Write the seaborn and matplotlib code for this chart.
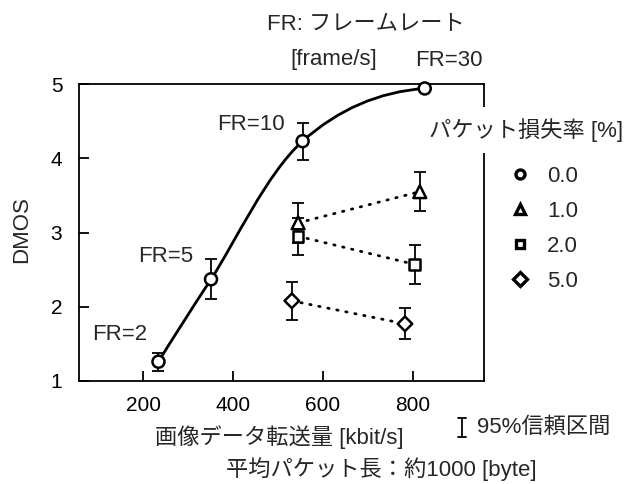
import numpy as np
import pandas as pd
import matplotlib
matplotlib.use("Agg")
import matplotlib.pyplot as plt
import seaborn as sns
from matplotlib.path import Path
from matplotlib.patches import PathPatch
from matplotlib.lines import Line2D

# ---------------- data ----------------
fr_labels = ["FR=2", "FR=5", "FR=10", "FR=30"]
fr_offsets = [(-39, 27), (-45, 23), (-52, 17), (24, 28)]   # label offsets (pixels)

loss_labels = ["0.0", "1.0", "2.0", "5.0"]

rate0_x = [234, 351, 555, 827]
rate0_y = [1.26, 2.37, 4.23, 4.94]
rate0_ci = [0.12, 0.27, 0.25, 0.0]

rate1_x = [545, 816]
rate1_y = [3.13, 3.55]
rate1_ci = [0.27, 0.26]

rate2_x = [545, 805]
rate2_y = [2.95, 2.57]
rate2_ci = [0.25, 0.26]

rate5_x = [531, 783]
rate5_y = [2.08, 1.77]
rate5_ci = [0.26, 0.21]

x_ticks = [200, 400, 600, 800]
y_ticks = [1, 2, 3, 4, 5]

# ---------------- style ----------------
sns.set_theme(style="ticks")
plt.rcParams["font.family"] = ["Liberation Sans", "Noto Sans CJK JP"]
plt.rcParams["axes.unicode_minus"] = False

W, H = 624, 484
fig = plt.figure(figsize=(W / 100, H / 100), dpi=100)
fig.patch.set_facecolor("white")
ax = fig.add_axes([79 / W, 1 - 381 / H, 405 / W, 297 / H])
ax.set_facecolor("white")
ax.set_xlim(57, 959)
ax.set_ylim(1, 5)

for s in ax.spines.values():
    s.set_linewidth(1.3)
    s.set_color("black")

ax.set_xticks(x_ticks)
ax.set_yticks(y_ticks)
ax.tick_params(axis="both", direction="in", length=7, width=1.3,
               colors="black", labelsize=15)
ax.tick_params(axis="x", pad=11)
ax.tick_params(axis="y", pad=12)

# long table for seaborn
series = [
    (loss_labels[0], rate0_x, rate0_y, rate0_ci),
    (loss_labels[1], rate1_x, rate1_y, rate1_ci),
    (loss_labels[2], rate2_x, rate2_y, rate2_ci),
    (loss_labels[3], rate5_x, rate5_y, rate5_ci),
]
rows = []
for lab, xs, ys, cis in series:
    for xv, yv, cv in zip(xs, ys, cis):
        rows.append({"loss": lab, "x": xv, "y": yv, "ci": cv})
df = pd.DataFrame(rows)

# error bars
for lab, xs, ys, cis in series:
    ax.errorbar(xs, ys, yerr=cis, fmt="none", ecolor="black",
                elinewidth=1.3, capsize=4.5, capthick=1.3, zorder=2)

# dotted connections for lossy series
for lab, xs, ys, cis in series[1:]:
    ax.plot(xs, ys, color="black", lw=2.0, linestyle=(0, (0.5, 2.8)),
            dash_capstyle="round", zorder=1.5)

# smooth curve for 0.0 % series (cubic Bezier through the points)
fig.canvas.draw()
pts = ax.transData.transform(np.column_stack([rate0_x, rate0_y]))
n = len(pts)
tang = np.zeros_like(pts)
for i in range(1, n - 1):
    tang[i] = (pts[i + 1] - pts[i - 1]) / 2
tang[0] = 2 * (pts[1] - pts[0]) - tang[1]
tang[-1] = 2 * (pts[-1] - pts[-2]) - tang[-2]
verts = [pts[0]]
codes = [Path.MOVETO]
for i in range(n - 1):
    verts += [pts[i] + tang[i] / 3, pts[i + 1] - tang[i + 1] / 3, pts[i + 1]]
    codes += [Path.CURVE4] * 3
verts = ax.transData.inverted().transform(np.array(verts))
ax.add_patch(PathPatch(Path(verts, codes), fill=False, lw=2.0,
                       edgecolor="black", zorder=2.5, capstyle="round"))

# markers
marker_map = {"0.0": "o", "1.0": "^", "2.0": "s", "5.0": "D"}
size_map = {"0.0": 75, "1.0": 85, "2.0": 60, "5.0": 55}
sns.scatterplot(data=df, x="x", y="y", style="loss", markers=marker_map,
                size="loss", sizes=size_map, color="white",
                edgecolor="black", linewidth=1.8, legend=False, ax=ax,
                zorder=3, clip_on=False)

# FR annotations
for lab, xv, yv, off in zip(fr_labels, rate0_x, rate0_y, fr_offsets):
    ax.annotate(lab, (xv, yv), xytext=off, textcoords="offset pixels",
                ha="center", va="center", fontsize=16, annotation_clip=False)

# axis labels
ax.set_xlabel("画像データ転送量 [kbit/s]", fontsize=16)
ax.xaxis.label.set_va("center")
ax.xaxis.set_label_coords((279 - 79) / 405, (381 - 437) / 297)
ax.set_ylabel("DMOS", fontsize=16)
ax.yaxis.label.set_va("center")
ax.yaxis.set_label_coords((22 - 79) / 405, (381 - 230) / 297)

# header texts
fig.text(366 / W, 1 - 24 / H, "FR: フレームレート", ha="center", va="center", fontsize=16)
fig.text(334 / W, 1 - 59 / H, "[frame/s]", ha="center", va="center", fontsize=16)

# legend
fig.text(526 / W, 1 - 130 / H, "パケット損失率 [%]", ha="center", va="center",
         fontsize=16, zorder=10,
         bbox=dict(boxstyle="square,pad=0.5", fc="white", ec="none"))
handles = [Line2D([], [], ls="none", marker=marker_map[l], mfc="white",
                  mec="black", mew=2.4, ms=ms)
           for l, ms in zip(loss_labels, [6.5, 7.5, 6.0, 7.0])]
fig.legend(handles, loss_labels, loc="upper left",
           bbox_to_anchor=(509 / W, 1 - 166 / H), frameon=False, fontsize=16,
           handlelength=1.0, handletextpad=0.7, labelspacing=0.63,
           borderpad=0, borderaxespad=0)

# confidence interval note
xb = 462 / W
y0, y1 = 1 - 437 / H, 1 - 418 / H
cw = 4 / W
for xs_, ys_ in [([xb, xb], [y0, y1]), ([xb - cw, xb + cw], [y0, y0]),
                 ([xb - cw, xb + cw], [y1, y1])]:
    fig.add_artist(Line2D(xs_, ys_, transform=fig.transFigure,
                          color="black", lw=1.3))
fig.text(477 / W, 1 - 427 / H, "95%信頼区間", ha="left", va="center", fontsize=16)

fig.text(381 / W, 1 - 469 / H, "平均パケット長：約1000 [byte]", ha="center",
         va="center", fontsize=16)

fig.savefig("out.png", dpi=100, facecolor="white")
